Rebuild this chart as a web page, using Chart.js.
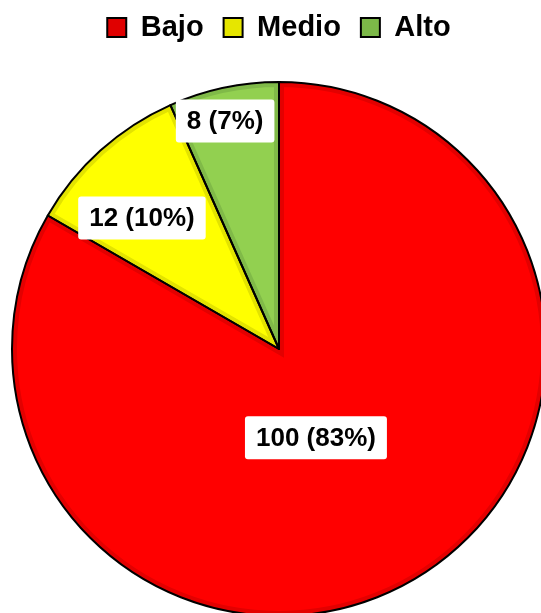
<!DOCTYPE html>
<html>
<head>
<meta charset="utf-8">
<script src="https://cdn.jsdelivr.net/npm/chart.js@4/dist/chart.umd.min.js"></script>
<style>
  html, body { margin: 0; padding: 0; background: #fff; }
  #wrap { width: 541px; height: 613px; }
</style>
</head>
<body>
<div id="wrap"><canvas id="nivelChart"></canvas></div>
<script>
const categories = ['Bajo', 'Medio', 'Alto'];
const values = [100, 12, 8];

const FILL_COLORS = ['#FF0000', '#FFFF00', '#92D050'];
const BAND_COLORS = ['#E30000', '#E3E300', '#80BA48'];
const LEGEND_COLORS = ['#E00000', '#E6E600', '#7CB848'];

// where the value boxes sit: fraction of radius + small angle shift (deg)
const LABEL_RADIUS = [0.36, 0.71, 0.877];
const LABEL_SHIFT = [7.4, -4.3, -1.3];

const FONT = '"Liberation Sans", Arial, sans-serif';

// push the pie down a bit: extra room under the legend
const legendGap = {
    id: 'legendGap',
    beforeInit(chart) {
        const fit = chart.legend.fit;
        chart.legend.fit = function () {
            fit.bind(chart.legend)();
            this.height += 33;
        };
    }
};

const sliceBorders = {
    id: 'sliceBorders',
    afterDatasetsDraw(chart) {
        const ctx = chart.ctx;
        const arcs = chart.getDatasetMeta(0).data;
        arcs.forEach((arc, i) => {
            const p = arc.getProps(['x', 'y', 'startAngle', 'endAngle', 'outerRadius'], true);
            ctx.save();
            ctx.beginPath();
            ctx.moveTo(p.x, p.y);
            ctx.arc(p.x, p.y, p.outerRadius, p.startAngle, p.endAngle);
            ctx.closePath();
            ctx.clip();
            ctx.lineWidth = 10;
            ctx.strokeStyle = BAND_COLORS[i];
            ctx.stroke();
            ctx.restore();
        });
        arcs.forEach(arc => {
            const p = arc.getProps(['x', 'y', 'startAngle', 'endAngle', 'outerRadius'], true);
            ctx.save();
            ctx.beginPath();
            ctx.moveTo(p.x, p.y);
            ctx.arc(p.x, p.y, p.outerRadius, p.startAngle, p.endAngle);
            ctx.closePath();
            ctx.lineJoin = 'round';
            ctx.lineWidth = 2;
            ctx.strokeStyle = '#000';
            ctx.stroke();
            ctx.restore();
        });
    }
};

const sliceLabels = {
    id: 'sliceLabels',
    afterDraw(chart) {
        const ctx = chart.ctx;
        const arcs = chart.getDatasetMeta(0).data;
        const total = values.reduce((a, b) => a + b, 0);
        ctx.save();
        ctx.font = 'bold 26px ' + FONT;
        ctx.textAlign = 'center';
        ctx.textBaseline = 'middle';
        arcs.forEach((arc, i) => {
            const p = arc.getProps(['x', 'y', 'startAngle', 'endAngle', 'outerRadius'], true);
            const mid = (p.startAngle + p.endAngle) / 2 + LABEL_SHIFT[i] * Math.PI / 180;
            const r = p.outerRadius * LABEL_RADIUS[i];
            const lx = p.x + Math.cos(mid) * r;
            const ly = p.y + Math.sin(mid) * r;
            const text = values[i] + ' (' + Math.round(values[i] / total * 100) + '%)';
            const w = ctx.measureText(text).width + 22;
            const h = 43;
            ctx.fillStyle = '#fff';
            ctx.beginPath();
            ctx.roundRect(lx - w / 2, ly - h / 2, w, h, 3);
            ctx.fill();
            ctx.fillStyle = '#000';
            ctx.fillText(text, lx, ly + 1);
        });
        ctx.restore();
    }
};

const data = {
    labels: categories,
    datasets: [
        {
            data: values,
            backgroundColor: FILL_COLORS,
            borderWidth: 0
        }
    ]
};

const config = {
    type: 'pie',
    data: data,
    options: {
        responsive: true,
        maintainAspectRatio: false,
        animation: false,
        events: [],
        radius: 267,
        layout: {
            padding: { left: 17, right: 0, top: -7, bottom: 0 }
        },
        plugins: {
            tooltip: { enabled: false },
            legend: {
                position: 'top',
                labels: {
                    boxWidth: 19,
                    boxHeight: 19,
                    padding: 20,
                    color: '#000',
                    font: { family: FONT, size: 29, weight: 'bold' },
                    generateLabels: chart => categories.map((name, i) => ({
                        text: name,
                        fillStyle: LEGEND_COLORS[i],
                        strokeStyle: '#000',
                        lineWidth: 2,
                        index: i,
                        hidden: false
                    }))
                }
            }
        }
    },
    plugins: [legendGap, sliceBorders, sliceLabels]
};

new Chart(document.getElementById('nivelChart'), config);
</script>
</body>
</html>
